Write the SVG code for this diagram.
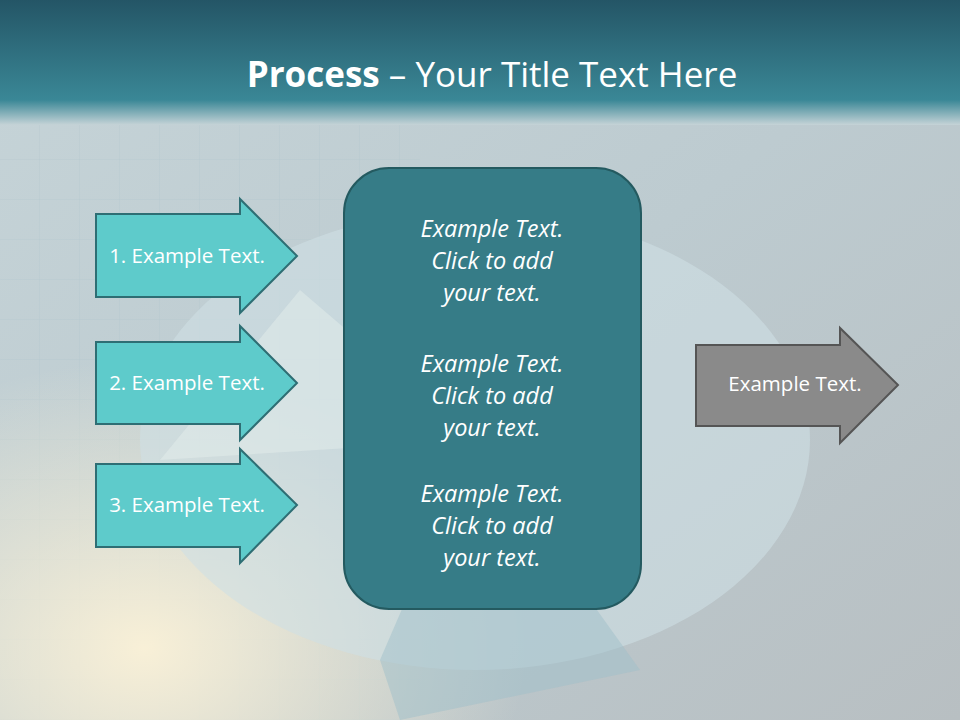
<svg xmlns="http://www.w3.org/2000/svg" width="960" height="720" viewBox="0 0 960 720">
<defs>
<linearGradient id="hdr" x1="0" y1="0" x2="0" y2="1">
<stop offset="0" stop-color="#245566"/><stop offset="0.8" stop-color="#3a8796"/><stop offset="1" stop-color="#c5d3d7"/>
</linearGradient>
<linearGradient id="bg" x1="0" y1="0" x2="1" y2="1">
<stop offset="0" stop-color="#c6d4d8"/><stop offset="0.5" stop-color="#bdcbd0"/><stop offset="1" stop-color="#b8bfc2"/>
</linearGradient>
<radialGradient id="glow" cx="0.15" cy="0.9" r="0.4">
<stop offset="0" stop-color="#fff4d8" stop-opacity="0.9"/><stop offset="1" stop-color="#fff4d8" stop-opacity="0"/>
</radialGradient>
<pattern id="grid" width="40" height="40" patternUnits="userSpaceOnUse">
<path d="M40 0V40H0" fill="none" stroke="#b0c4c9" stroke-width="1" opacity="0.6"/>
</pattern>
<style>
.ta{fill:#5ecbcb;stroke:#2e6e74;stroke-width:2}
.tl{font-family:"Open Sans","DejaVu Sans",sans-serif;font-size:20.5px;fill:#fff;text-anchor:middle}
.bt{font-family:"Open Sans","DejaVu Sans",sans-serif;font-size:23.5px;font-style:italic;fill:#fff;text-anchor:middle}
</style>
</defs>
<rect width="960" height="720" fill="url(#bg)"/>
<rect width="420" height="720" fill="url(#grid)"/>
<rect width="960" height="720" fill="url(#glow)"/>
<ellipse cx="475" cy="440" rx="335" ry="230" fill="#cfe0e4" opacity="0.6"/>
<path d="M475 440 L160 460 L300 290 Z" fill="#e4eeec" opacity="0.5"/>
<path d="M475 440 L640 670 L400 720 L380 660 Z" fill="#9fbfc9" opacity="0.5"/>
<rect width="960" height="125" fill="url(#hdr)"/>
<text x="492" y="87" font-family="'Open Sans','DejaVu Sans',sans-serif" font-size="35" fill="#fff" text-anchor="middle"><tspan font-weight="bold">Process</tspan> – Your Title Text Here</text>
<g id="arrow1"><path class="ta" d="M96 214H240V199L297 256L240 313V297H96Z"/><text class="tl" x="187" y="263">1. Example Text.</text></g>
<g id="arrow2"><path class="ta" d="M96 342H240V326L297 383L240 440V424H96Z"/><text class="tl" x="187" y="390">2. Example Text.</text></g>
<g id="arrow3"><path class="ta" d="M96 464H240V449L297 505L240 563V547H96Z"/><text class="tl" x="187" y="512">3. Example Text.</text></g>
<g id="center"><rect x="344" y="168" width="297" height="441" rx="45" fill="#367c87" stroke="#245a60" stroke-width="2"/>
<text class="bt" x="492" y="237">Example Text.</text><text class="bt" x="492" y="269">Click  to add</text><text class="bt" x="492" y="301">your text.</text>
<text class="bt" x="492" y="372">Example Text.</text><text class="bt" x="492" y="404">Click  to add</text><text class="bt" x="492" y="436">your text.</text>
<text class="bt" x="492" y="502">Example Text.</text><text class="bt" x="492" y="534">Click  to add</text><text class="bt" x="492" y="566">your text.</text></g>
<g id="output"><path d="M696 345H840V328L898 385L840 443V426H696Z" fill="#8a8a8a" stroke="#555" stroke-width="2"/><text class="tl" x="795" y="391">Example Text.</text></g>
<g id="connectors"/>
</svg>
